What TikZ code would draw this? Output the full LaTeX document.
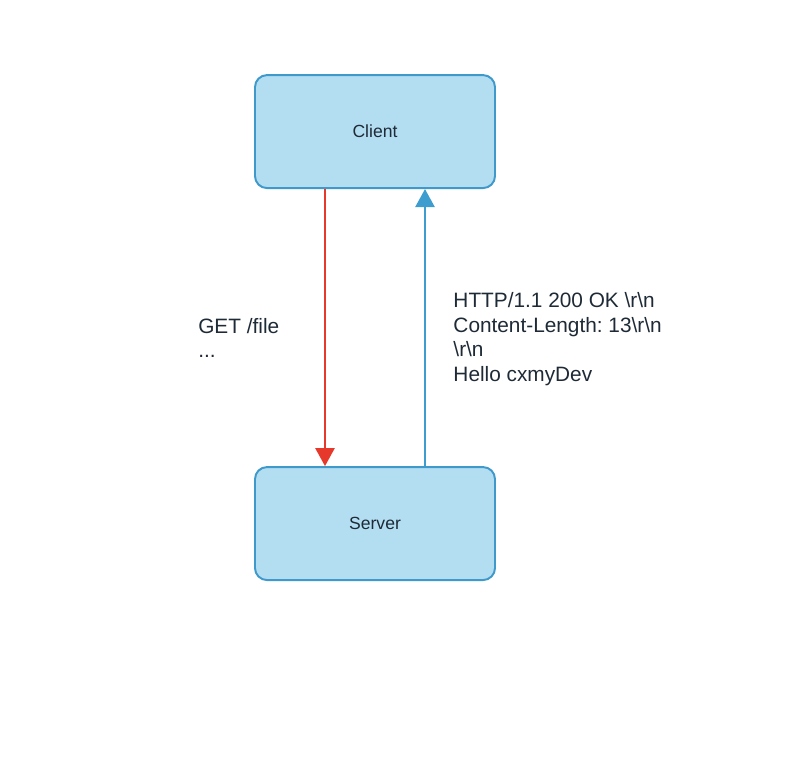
\documentclass[tikz,border=0pt]{standalone}
\usepackage{fontspec}
\setmainfont{Liberation Sans}
\usetikzlibrary{arrows.meta, positioning}
\definecolor{boxfill}{HTML}{B3DEF2}
\definecolor{boxline}{HTML}{3F9ACB}
\definecolor{reqred}{HTML}{E6392B}
\definecolor{resblue}{HTML}{3E9DCF}
\definecolor{txt}{HTML}{1E2A36}
\frenchspacing
\begin{document}
\begin{tikzpicture}[node distance=6.925cm,
	box/.style={draw=boxline, fill=boxfill, line width=1.4pt, rounded corners=0.3cm,
		minimum width=6cm, minimum height=2.825cm, text=txt, font=\fontsize{12.5pt}{15pt}\selectfont},
	msg/.style={align=left, text=txt, inner sep=0pt, font=\fontsize{14.8pt}{17.4pt}\selectfont},
	flow/.style={line width=1.4pt, -{Triangle[width=0.48cm,length=0.45cm]}}]
	\useasboundingbox (0,0) rectangle (20,19.25);
	\node[box] (client) at (9.375,15.96) {Client};
	\node[box, below =of client] (server) {Server};
	\foreach \from/\to/\col/\sh in {client.south/server.north/reqred/-1.25cm,server.north/client.south/resblue/1.25cm}
		\draw[flow, \col] ([xshift=\sh]\from) -- ([xshift=\sh]\to);
	\node[msg, anchor=west] (req) at (4.95,10.8) {GET /file\\...};
	\node[msg, anchor=west] (res) at (11.33,10.77) {HTTP/1.1 200 OK \textbackslash r\textbackslash n\\Content-Length: 13\textbackslash r\textbackslash n\\\textbackslash r\textbackslash n\\Hello cxmyDev};
\end{tikzpicture}
\end{document}
